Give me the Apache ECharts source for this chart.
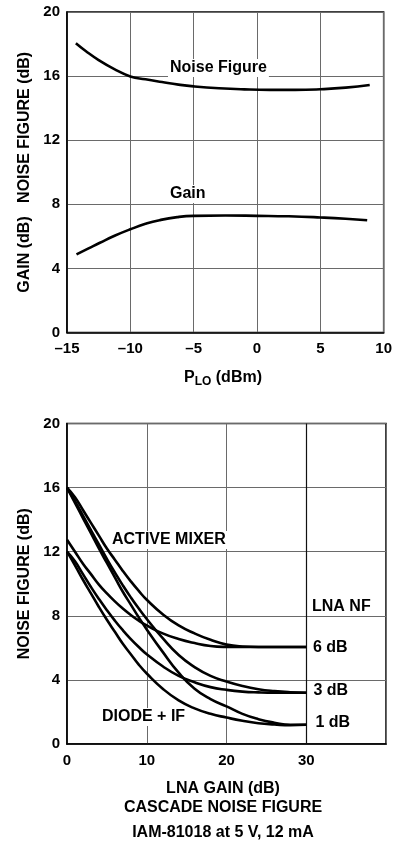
<!DOCTYPE html>
<html><head><meta charset="utf-8">
<script src="https://cdn.jsdelivr.net/npm/echarts@6/dist/echarts.min.js"></script>
<style>html,body{margin:0;padding:0;background:#fff}#c{width:395px;height:842px}</style>
</head><body><div id="c"></div>
<script>
// ---- Top chart: Noise figure and gain vs LO power ----
const pLoNF = [-14.3, -13.5, -12.5, -11.3, -10, -8.8, -7.5, -6.2, -5, -3, -1, 1, 3, 5, 7, 8.9];
const noiseFigure = [18.05, 17.55, 17.0, 16.45, 15.98, 15.8, 15.63, 15.47, 15.36, 15.24, 15.17, 15.14, 15.14, 15.18, 15.28, 15.45];
const pLoGain = [-14.25, -13.3, -12.4, -11.2, -10, -8.8, -7.7, -6.3, -5, -2.5, 0, 2.5, 5, 7, 8.7];
const gain = [4.88, 5.25, 5.6, 6.05, 6.44, 6.78, 7.01, 7.2, 7.28, 7.3, 7.28, 7.25, 7.18, 7.1, 7.0];
const topXTicks = [-15, -10, -5, 0, 5, 10];
const topYTicks = [0, 4, 8, 12, 16, 20];

// ---- Bottom chart: cascade noise figure vs LNA gain ----
const lnaGain = [0, 1, 2, 3, 4, 5, 6, 7, 8, 9, 10, 12, 14, 16, 18, 20, 22, 24, 26, 28, 30];
const activeNF6 = [16.0, 15.4, 14.6, 13.8, 13.0, 12.2, 11.5, 10.8, 10.15, 9.55, 9.0, 8.1, 7.4, 6.9, 6.5, 6.2, 6.08, 6.05, 6.05, 6.05, 6.05];
const activeNF3 = [16.0, 15.15, 14.25, 13.35, 12.45, 11.55, 10.7, 9.9, 9.15, 8.45, 7.8, 6.6, 5.55, 4.8, 4.25, 3.9, 3.62, 3.42, 3.3, 3.23, 3.2];
const activeNF1 = [16.0, 15.05, 14.1, 13.15, 12.2, 11.3, 10.4, 9.5, 8.7, 7.9, 7.15, 5.75, 4.45, 3.45, 2.8, 2.35, 1.88, 1.55, 1.33, 1.2, 1.2];
const diodeNF6 = [12.75, 12.0, 11.25, 10.6, 9.95, 9.4, 8.9, 8.45, 8.05, 7.7, 7.4, 6.9, 6.55, 6.3, 6.12, 6.06, 6.05, 6.05, 6.05, 6.05, 6.05];
const diodeNF3 = [12.0, 11.4, 10.6, 9.8, 9.05, 8.35, 7.7, 7.1, 6.55, 6.05, 5.6, 4.85, 4.25, 3.85, 3.55, 3.38, 3.27, 3.22, 3.2, 3.2, 3.2];
const diodeNF1 = [12.0, 11.15, 10.25, 9.4, 8.55, 7.75, 7.0, 6.25, 5.6, 4.95, 4.4, 3.45, 2.72, 2.22, 1.88, 1.65, 1.45, 1.3, 1.22, 1.17, 1.2];
const botXTicks = [0, 10, 20, 30];
const botYTicks = [0, 4, 8, 12, 16, 20];

const FONT = '"Liberation Sans", Arial, Helvetica, sans-serif';
const zip = (xs, ys) => xs.map((x, i) => [x, ys[i]]);

const chart = echarts.init(document.getElementById('c'), null, {renderer: 'canvas'});

const gridLine = {show: true, lineStyle: {color: '#6a6a6a', width: 1}};
const axisLab = {color: '#000', fontSize: 15, fontWeight: 'bold', fontFamily: FONT};
function curve(x, y, data, extra) {
  return Object.assign({
    type: 'line', xAxisIndex: x, yAxisIndex: y, data: data,
    smooth: true, showSymbol: false, symbol: 'none', silent: true,
    lineStyle: {color: '#000', width: 2.6}, z: 5
  }, extra || {});
}
const lab = (text, x, y, size) => ({
  type: 'text', x: x, y: y, z: 100,
  style: {text: text, fill: '#000', font: 'bold ' + (size || 16) + 'px ' + FONT,
          align: 'left', verticalAlign: 'middle', backgroundColor: '#fff', padding: [1, 2]}
});
const ctr = (text, x, y) => ({
  type: 'text', x: x, y: y, z: 100,
  style: {text: text, fill: '#000', font: 'bold 16px ' + FONT, align: 'center', verticalAlign: 'middle'}
});

chart.setOption({
  animation: false,
  backgroundColor: '#fff',
  grid: [
    {left: 67, top: 12, width: 319, height: 320.5, show: true, borderColor: '#000', borderWidth: 1.5, backgroundColor: 'transparent'},
    {left: 67, top: 423.5, width: 319, height: 320.5, show: true, borderColor: '#000', borderWidth: 1.5, backgroundColor: 'transparent'}
  ],
  xAxis: [
    {type: 'value', gridIndex: 0, min: topXTicks[0], max: topXTicks[topXTicks.length - 1], interval: 5,
     axisLine: {show: true, onZero: false, lineStyle: {color: '#000', width: 1.5}}, axisTick: {show: false},
     splitLine: gridLine,
     axisLabel: Object.assign({margin: 9, formatter: v => (v < 0 ? '\u2013' + Math.abs(v) : '' + v)}, axisLab)},
    {type: 'value', gridIndex: 1, min: 0, max: 40, interval: 10,
     axisLine: {show: true, onZero: false, lineStyle: {color: '#000', width: 1.5}}, axisTick: {show: false},
     splitLine: gridLine,
     axisLabel: Object.assign({margin: 9, formatter: v => (botXTicks.indexOf(v) >= 0 ? '' + v : '')}, axisLab)}
  ],
  yAxis: [
    {type: 'value', gridIndex: 0, min: 0, max: 20, interval: 4,
     axisLine: {show: true, onZero: false, lineStyle: {color: '#000', width: 1.5}}, axisTick: {show: false},
     splitLine: gridLine, axisLabel: Object.assign({margin: 7}, axisLab),
     name: 'GAIN (dB)   NOISE FIGURE (dB)', nameLocation: 'middle', nameGap: 34, nameRotate: 90,
     nameTextStyle: {color: '#000', fontSize: 16, fontWeight: 'bold', fontFamily: FONT}},
    {type: 'value', gridIndex: 1, min: 0, max: 20, interval: 4,
     axisLine: {show: true, onZero: false, lineStyle: {color: '#000', width: 1.5}}, axisTick: {show: false},
     splitLine: gridLine, axisLabel: Object.assign({margin: 7}, axisLab),
     name: 'NOISE FIGURE (dB)', nameLocation: 'middle', nameGap: 34, nameRotate: 90,
     nameTextStyle: {color: '#000', fontSize: 16, fontWeight: 'bold', fontFamily: FONT}}
  ],
  series: [
    curve(0, 0, zip(pLoNF, noiseFigure)),
    curve(0, 0, zip(pLoGain, gain)),
    curve(1, 1, zip(lnaGain, activeNF6), {
      markLine: {silent: true, symbol: 'none', label: {show: false},
                 lineStyle: {color: '#111', width: 1.2, type: 'solid'}, data: [{xAxis: 30}], z: 3}
    }),
    curve(1, 1, zip(lnaGain, activeNF3)),
    curve(1, 1, zip(lnaGain, activeNF1)),
    curve(1, 1, zip(lnaGain, diodeNF6)),
    curve(1, 1, zip(lnaGain, diodeNF3)),
    curve(1, 1, zip(lnaGain, diodeNF1))
  ],
  graphic: [
    lab('Noise Figure', 168, 68),
    lab('Gain', 168, 194),
    {type: 'text', x: 223, y: 378, z: 100,
     style: {text: '{a|P}{b|LO}{a| (dBm)}', align: 'center', verticalAlign: 'middle',
             rich: {a: {fontSize: 16, fontWeight: 'bold', fontFamily: FONT, fill: '#000', lineHeight: 20},
                    b: {fontSize: 12, fontWeight: 'bold', fontFamily: FONT, fill: '#000', lineHeight: 14, verticalAlign: 'bottom'}}}},
    lab('ACTIVE MIXER', 110, 540),
    lab('DIODE + IF', 100, 717),
    lab('LNA NF', 310, 607),
    lab('6 dB', 311, 648),
    lab('3 dB', 311.5, 691),
    lab('1 dB', 313.5, 723),
    ctr('LNA GAIN (dB)', 223, 789),
    ctr('CASCADE NOISE FIGURE', 223, 808),
    ctr('IAM-81018 at 5 V, 12 mA', 223, 833)
  ]
});
</script></body></html>
